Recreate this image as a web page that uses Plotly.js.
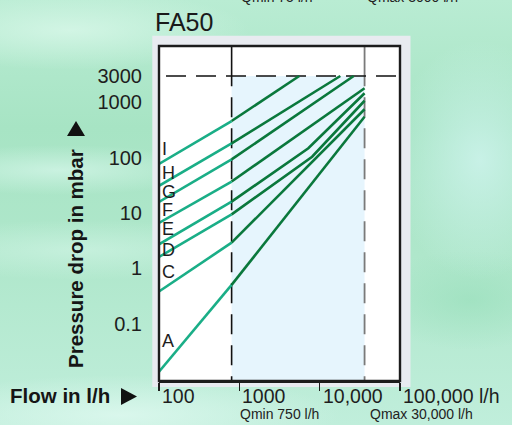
<!DOCTYPE html>
<html>
<head>
<meta charset="utf-8">
<script src="https://cdn.plot.ly/plotly-3.0.1.min.js"></script>
<style>
html,body{margin:0;padding:0;width:512px;height:425px;overflow:hidden;}
body{
 background:
  radial-gradient(ellipse 180px 40px at 70px 30px, rgba(215,247,232,0.85), rgba(215,247,232,0)),
  radial-gradient(ellipse 160px 25px at 60px 170px, rgba(215,247,235,0.7), rgba(215,247,235,0)),
  radial-gradient(ellipse 200px 30px at 80px 250px, rgba(212,246,232,0.6), rgba(212,246,232,0)),
  radial-gradient(ellipse 90px 120px at 480px 160px, rgba(205,243,236,0.85), rgba(205,243,236,0)),
  radial-gradient(ellipse 220px 40px at 120px 415px, rgba(220,248,238,0.9), rgba(220,248,238,0)),
  radial-gradient(ellipse 100px 50px at 470px 300px, rgba(150,222,185,0.6), rgba(150,222,185,0)),
  linear-gradient(180deg, #b9ecd3 0%, #a7e4c4 30%, #afe7cb 60%, #c0eedb 100%);
}
#chart{width:512px;height:425px;}
</style>
</head>
<body>
<div id="chart"></div>
<script>
// ---- data ----
const qMin = 750;          // l/h
const qMax = 30000;        // l/h
const pLimit = 3000;       // mbar
const lineNames = ['I','H','G','F','E','D','C','A'];
const flowI = [100, 750, 4900];
const dropI = [77, 460, 3000];
const flowH = [100, 750, 15300];
const dropH = [31, 182, 3000];
const flowG = [100, 750, 22200];
const dropG = [15.8, 93, 3000];
const flowF = [100, 750, 22000, 30000];
const dropF = [6.6, 37, 1270, 1800];
const flowE = [100, 750, 6300, 30000];
const dropE = [2.7, 16, 148, 1460];
const flowD = [100, 750, 7000, 30000];
const dropD = [1.6, 9.4, 104, 1070];
const flowC = [100, 750, 30000];
const dropC = [0.38, 2.9, 750];
const flowA = [100, 750, 30000];
const dropA = [0.0134, 0.5, 550];
const yTickVals = [0.1, 1, 10, 100, 1000, 3000];
const yTickText = ['0.1', '1', '10', '100', '1000', '3000'];
const rulerVals = [100, 1000, 10000, 100000];
const rulerText = ['100', '1000', '10,000', '100,000 l/h'];

// ---- styling / layout ----
const FONT = '"Liberation Sans", Arial, Helvetica, sans-serif';
const lightCol = '#1aae87';
const darkCol = '#0a783c';
const L = 159, T = 46, W = 241, H = 335;   // plot area in px
const px2x = p => (p - L) / W;
const py2y = p => (T + H - p) / H;
const labelYpx = [148.5, 173, 191.7, 210, 228.5, 250, 271.7, 340.7];

const flows = [flowI, flowH, flowG, flowF, flowE, flowD, flowC, flowA];
const drops = [dropI, dropH, dropG, dropF, dropE, dropD, dropC, dropA];

const traces = [];
flows.forEach((fl, i) => {
  const dr = drops[i];
  const lx = [], ly = [], dx = [], dy = [];
  fl.forEach((f, j) => {
    if (f <= qMin) { lx.push(f); ly.push(dr[j]); }
    if (f >= qMin) { dx.push(f); dy.push(dr[j]); }
  });
  traces.push({x: lx, y: ly, mode: 'lines', line: {color: lightCol, width: 2.6},
    name: lineNames[i], showlegend: false, hoverinfo: 'skip'});
  traces.push({x: dx, y: dy, mode: 'lines', line: {color: darkCol, width: 2.6},
    name: lineNames[i], showlegend: false, hoverinfo: 'skip'});
});
// carrier for the flow ruler axis
traces.push({x: rulerVals, y: rulerVals.map(() => null), xaxis: 'x2', yaxis: 'y',
  mode: 'lines', showlegend: false, hoverinfo: 'skip'});

const annotations = [];
lineNames.forEach((n, i) => {
  annotations.push({text: n, xref: 'paper', yref: 'paper', x: px2x(159.5), y: py2y(labelYpx[i]),
    xanchor: 'left', yanchor: 'middle', showarrow: false, font: {family: FONT, size: 18, color: '#1e1e1e'}});
});
rulerVals.forEach((v, i) => {
  annotations.push({text: rulerText[i], xref: 'x2', yref: 'paper', x: Math.log10(v), y: py2y(395.5),
    xanchor: 'left', yanchor: 'middle', xshift: 1, showarrow: false, font: {family: FONT, size: 19.5, color: '#1e1e1e'}});
});
annotations.push({text: 'Pressure drop in mbar', textangle: -90, xref: 'paper', yref: 'paper',
  x: px2x(75), y: py2y(259), xanchor: 'center', yanchor: 'middle', showarrow: false,
  font: {family: FONT, size: 20.5, color: '#151515', weight: 'bold'}});
annotations.push({text: 'Flow in l/h', xref: 'paper', yref: 'paper', x: px2x(8), y: py2y(395),
  xanchor: 'left', yanchor: 'middle', showarrow: false,
  font: {family: FONT, size: 20.5, color: '#151515', weight: 'bold'}});
annotations.push({text: 'Qmin ' + qMin + ' l/h', xref: 'paper', yref: 'paper', x: px2x(238), y: py2y(414),
  xanchor: 'left', yanchor: 'middle', showarrow: false, font: {family: FONT, size: 14, color: '#222'}});
annotations.push({text: 'Qmax ' + qMax.toLocaleString('en-US') + ' l/h', xref: 'paper', yref: 'paper', x: px2x(368), y: py2y(414),
  xanchor: 'left', yanchor: 'middle', showarrow: false, font: {family: FONT, size: 14, color: '#222'}});
// partially cut-off captions at the very top of the picture (as in the reference)
annotations.push({text: 'Qmin 75 l/h', xref: 'paper', yref: 'paper', x: px2x(239), y: py2y(7),
  xanchor: 'left', yanchor: 'bottom', showarrow: false, font: {family: FONT, size: 14, color: '#222'}});
annotations.push({text: 'Qmax 3000 l/h', xref: 'paper', yref: 'paper', x: px2x(365), y: py2y(7),
  xanchor: 'left', yanchor: 'bottom', showarrow: false, font: {family: FONT, size: 14, color: '#222'}});

const shapes = [
  // grey panel
  {type: 'rect', xref: 'paper', yref: 'paper', x0: px2x(152.3), x1: px2x(410.5), y0: py2y(387), y1: py2y(35.7),
   fillcolor: '#e8ebf0', line: {width: 0}, layer: 'below'},
  // white plot area
  {type: 'rect', xref: 'paper', yref: 'paper', x0: 0, x1: 1, y0: 0, y1: 1,
   fillcolor: '#ffffff', line: {width: 0}, layer: 'below'},
  // flow range band
  {type: 'rect', xref: 'x', yref: 'y', x0: qMin, x1: qMax, y0: 1e-4, y1: pLimit,
   fillcolor: '#e6f5fd', line: {width: 0}, layer: 'below'},
  // Qmin / Qmax lines
  {type: 'line', xref: 'x', yref: 'y', x0: qMin, x1: qMin, y0: 1e-4, y1: pLimit,
   line: {color: '#111', width: 1.6, dash: '20px,11px'}, layer: 'below'},
  {type: 'line', xref: 'x', yref: 'y', x0: qMin, x1: qMin, y0: pLimit, y1: 1e6,
   line: {color: '#111', width: 1.6}, layer: 'below'},
  {type: 'line', xref: 'x', yref: 'y', x0: qMax, x1: qMax, y0: 1e-4, y1: pLimit,
   line: {color: '#7a7a7a', width: 1.8, dash: '20px,11px'}, layer: 'below'},
  {type: 'line', xref: 'x', yref: 'y', x0: qMax, x1: qMax, y0: pLimit, y1: 1e6,
   line: {color: '#7a7a7a', width: 1.8}, layer: 'below'},
  // 3000 mbar line
  {type: 'line', xref: 'x', yref: 'y', x0: 10, x1: 1e6, y0: pLimit, y1: pLimit,
   line: {color: '#111', width: 1.6, dash: '20px,10px'}, layer: 'below'},
  // frame
  {type: 'rect', xref: 'paper', yref: 'paper', x0: 0, x1: 1, y0: 0, y1: 1,
   line: {color: '#1c1c1c', width: 2.4}, layer: 'above'},
  // arrows
  {type: 'path', xref: 'paper', yref: 'paper', layer: 'above',
   path: 'M ' + px2x(67) + ' ' + py2y(136) + ' L ' + px2x(85) + ' ' + py2y(136) + ' L ' + px2x(76) + ' ' + py2y(121) + ' Z',
   fillcolor: '#111', line: {width: 0}},
  {type: 'path', xref: 'paper', yref: 'paper', layer: 'above',
   path: 'M ' + px2x(121) + ' ' + py2y(388) + ' L ' + px2x(121) + ' ' + py2y(405) + ' L ' + px2x(137) + ' ' + py2y(396.5) + ' Z',
   fillcolor: '#111', line: {width: 0}}
];

const layout = {
  width: 512, height: 425,
  margin: {l: L, r: 512 - L - W, t: T, b: 425 - T - H, pad: 0},
  paper_bgcolor: 'rgba(0,0,0,0)',
  plot_bgcolor: 'rgba(0,0,0,0)',
  font: {family: FONT, color: '#1e1e1e'},
  title: {text: 'FA50', x: 155 / 512, xanchor: 'left', xref: 'container',
          y: 1 - 22 / 425, yanchor: 'middle', yref: 'container',
          font: {family: FONT, size: 25, color: '#1a1a1a'}},
  showlegend: false,
  xaxis: {type: 'log', range: [2, 4.904], visible: false, fixedrange: true},
  xaxis2: {type: 'log', range: [2, 5], overlaying: 'x', anchor: 'y', side: 'bottom',
    tickvals: rulerVals, showticklabels: false, ticks: 'outside', ticklen: 8, tickwidth: 1.6,
    tickcolor: '#1c1c1c', showline: true, linecolor: '#1c1c1c', linewidth: 2,
    showgrid: false, zeroline: false, fixedrange: true},
  yaxis: {type: 'log', range: [-2.04, 4.02], tickvals: yTickVals, ticktext: yTickText,
    ticks: 'outside', ticklen: 12, tickcolor: 'rgba(0,0,0,0)',
    tickfont: {family: FONT, size: 20, color: '#1e1e1e'},
    showgrid: false, zeroline: false, showline: false, fixedrange: true},
  shapes: shapes,
  annotations: annotations
};

Plotly.newPlot('chart', traces, layout, {displayModeBar: false, staticPlot: true});
</script>
</body>
</html>
